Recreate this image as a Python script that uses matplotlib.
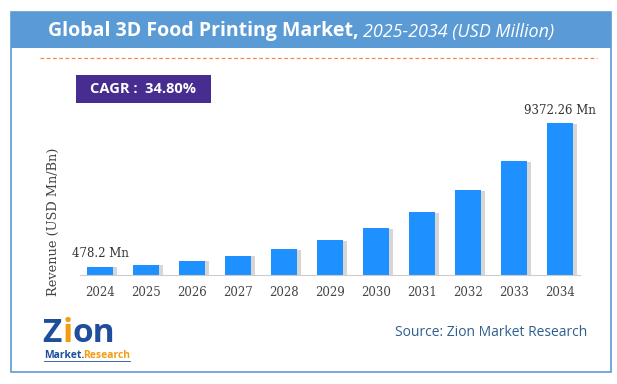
import matplotlib.pyplot as plt
from matplotlib.patches import Rectangle

W, H = 617, 384

years = ['2024', '2025', '2026', '2027', '2028', '2029', '2030', '2031', '2032', '2033', '2034']
revenue = [478.2, 644.6, 868.9, 1171.3, 1578.9, 2128.4, 2869.0, 3867.5, 5213.4, 7027.7, 9372.26]
first_label = '478.2 Mn'
last_label = '9372.26 Mn'
cagr = 'CAGR :  34.80%'

fig = plt.figure(figsize=(W / 100, H / 100), dpi=100)
fig.patch.set_facecolor('white')


def px(x, y):
    # pixel coords (top-left origin) -> figure fraction
    return x / W, 1 - y / H


# outer frame + title band
fig.patches.append(Rectangle(px(11, 372), 600 / W, 360 / H, transform=fig.transFigure,
                             fill=False, edgecolor='#5b9bd5', lw=1.2))
fig.patches.append(Rectangle(px(11, 48), 600 / W, 36 / H, transform=fig.transFigure,
                             facecolor='#5b9bd5', edgecolor='none'))

t1 = fig.text(*px(48, 31), 'Global 3D Food Printing Market,', color='white', fontsize=14,
              fontweight='bold', family='Open Sans', va='center', ha='left')
fig.canvas.draw()
bb = t1.get_window_extent()
x_end = bb.x1 / W
fig.text(x_end + 4 / W, px(0, 32)[1], '2025-2034 (USD Million)', color='white', fontsize=13,
         style='italic', family='Open Sans', va='center', ha='left')

# dashed orange line
fig.lines.append(plt.Line2D([40 / W, 597 / W], [px(0, 58)[1]] * 2, transform=fig.transFigure,
                            color='#f08a4b', lw=0.9, ls=(0, (3, 2))))

# CAGR box
fig.patches.append(Rectangle(px(76, 103), 135 / W, 28 / H, transform=fig.transFigure,
                             facecolor='#482d91', edgecolor='none'))
fig.text(*px(143.5, 89), cagr, color='white', fontsize=10.5, fontweight='bold',
         family='Open Sans', ha='center', va='center')

# bar chart
ax = fig.add_axes([80 / W, 1 - 275 / H, 500 / W, 175 / H])
x = list(range(len(years)))
ymax = revenue[-1] * 175 / 152
ax.bar([i + 0.08 for i in x], [v * 0.995 for v in revenue], width=0.57, color='#9a9a9a',
       alpha=0.4, zorder=1)
ax.bar(x, revenue, width=0.57, color='#1e90ff', zorder=2)
ax.set_xlim(-20 / 46, 10 + 20 / 46)
ax.set_ylim(0, ymax)
for s in ['top', 'right', 'left']:
    ax.spines[s].set_visible(False)
ax.spines['bottom'].set_color('#cccccc')
ax.set_yticks([])
ax.set_xticks(x)
ax.set_xticklabels(years, family='DejaVu Serif', fontsize=8.5, color='#444444')
ax.tick_params(axis='x', length=0, pad=8)
fig.text(*px(53, 222), 'Revenue (USD Mn/Bn)', family='DejaVu Serif', fontsize=9.3,
         color='#444444', rotation=90, ha='center', va='center')
ax.annotate(first_label, (0, revenue[0]), xytext=(0, 5), textcoords='offset points',
            ha='center', va='bottom', family='DejaVu Serif', fontsize=8.5, color='#333333')
ax.annotate(last_label, (10, revenue[-1]), xytext=(0, 4), textcoords='offset points',
            ha='center', va='bottom', family='DejaVu Serif', fontsize=8.5, color='#333333')

# logo and source
fig.text(*px(42, 333), 'Z', color='#1f4e9c', fontsize=24, fontweight='bold',
         family='Open Sans', ha='left', va='center')
fig.text(*px(63, 333), 'i', color='#f39c12', fontsize=24, fontweight='bold',
         family='Open Sans', ha='left', va='center')
fig.text(*px(73, 333), 'on', color='#1f4e9c', fontsize=24, fontweight='bold',
         family='Open Sans', ha='left', va='center')
fig.text(*px(44, 355), 'Market.', color='#1f4e9c', fontsize=7.5, fontweight='bold',
         family='Open Sans', ha='left', va='center')
fig.text(*px(83, 355), 'Research', color='#f39c12', fontsize=7.5, fontweight='bold',
         family='Open Sans', ha='left', va='center')
fig.lines.append(plt.Line2D([44 / W, 130 / W], [px(0, 361)[1]] * 2, transform=fig.transFigure,
                            color='#1f4e9c', lw=0.6))
fig.text(*px(587, 333), 'Source: Zion Market Research', color='#2f5f8f', fontsize=10,
         family='Open Sans', ha='right', va='center')

fig.savefig('out.png', dpi=100)
